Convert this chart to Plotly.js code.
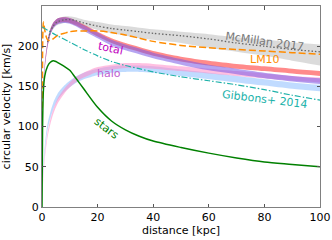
<!DOCTYPE html>
<html><head><meta charset="utf-8">
<script src="https://cdn.plot.ly/plotly-3.0.1.min.js"></script>
<style>html,body{margin:0;padding:0;background:#fff}#chart{width:332px;height:240px}</style>
</head><body><div id="chart"></div>
<script>
// distances [kpc]
const xTot   = [0, 0.2, 0.5, 1, 2, 3, 4, 5, 6, 8, 10, 12, 15, 20, 25, 30, 35, 40, 50, 60, 70, 80, 90, 100];
// total, model A (red band)
const totA_lo = [0, 106, 146, 172, 200, 215, 223, 227, 229, 230, 229, 226, 221, 212, 204, 198, 193, 188, 181, 176, 172, 169, 166, 163];
const totA_hi = [0, 112, 152, 178, 206, 221, 229, 233, 235, 236, 235, 232, 227, 218, 210, 204, 199, 194, 187, 182, 178, 175, 172, 169];
// total, model B (purple band)
const totB_lo = [0, 106, 146, 172, 199, 214, 222, 226, 228, 229, 228, 225, 219, 210, 201, 195, 190, 185, 177, 170, 165, 160, 156, 153];
const totB_hi = [0, 113, 153, 179, 206, 221, 229, 233, 235, 236, 235, 232, 226, 217, 208, 202, 197, 192, 184, 177, 172, 167, 163, 160];
// halo, model A (pink band)
const xHalo   = [0, 0.5, 1, 2, 3, 4, 5, 6, 8, 10, 12, 15, 20, 25, 30, 35, 40, 50, 60, 70, 80, 90, 100];
const haloA_lo = [0, 37, 59, 87, 103, 115, 124, 131, 141, 149, 155, 161, 168, 171, 173, 173, 172, 169, 166, 163, 160, 157, 155];
const haloA_hi = [0, 43, 65, 93, 109, 121, 130, 137, 147, 155, 161, 167, 174, 177, 179, 179, 178, 175, 172, 169, 166, 163, 161];
// halo, model B (light blue band)
const haloB_lo = [0, 46, 68, 96, 110, 121, 129, 135, 143, 149, 154, 159, 164, 167, 168, 168, 167, 163, 159, 155, 151, 147, 144];
const haloB_hi = [0, 54, 76, 104, 118, 129, 137, 143, 151, 157, 162, 167, 172, 175, 176, 176, 175, 171, 167, 163, 159, 155, 152];
// stars
const xStars = [0, 0.2, 0.5, 1, 2, 3, 4, 5, 6, 8, 10, 12, 15, 20, 25, 30, 35, 40, 50, 60, 70, 80, 90, 100];
const vStars = [0, 100, 145, 163, 175, 180, 182, 181, 179, 175, 170, 161, 147, 124, 107, 96, 88, 82, 74, 67, 61, 56, 53, 50];
// McMillan 2017
const xMc   = [2, 3, 4, 5, 6, 8, 10, 12, 15, 20, 25, 30, 35, 40, 50, 60, 70, 80, 90, 100];
const vMc   = [205, 218, 225, 229, 231, 233, 233, 232, 229, 225, 222, 220, 218, 216, 213, 209, 204, 200, 196, 193];
const mcHi  = [209, 222, 229, 233, 235, 237, 237, 236, 233, 230, 227, 225, 223, 221, 218, 215, 211, 208, 205, 202];
const mcLo  = [201, 214, 221, 225, 227, 229, 229, 228, 225, 220, 216, 213, 210, 208, 204, 198, 193, 188, 182, 176];
// LM10
const xLM = [0.1, 0.3, 0.5, 0.8, 1, 1.5, 2, 3, 4, 5, 6, 8, 10, 12, 15, 20, 25, 30, 35, 40, 50, 60, 70, 80, 90, 100];
const vLM = [110, 215, 230, 225, 220, 212, 208, 207, 209, 212, 214, 216, 218, 219, 219, 219, 217, 214, 210, 206, 201, 198, 196, 194, 192, 190];
// Gibbons+ 2014
const xGib = [0, 5, 10, 15, 20, 25, 30, 35, 40, 50, 60, 70, 80, 90, 100];
const vGib = [224, 214, 205, 196, 188, 181, 176, 172, 168, 162, 157, 152, 146, 139, 133];

const xTicks = [0, 20, 40, 60, 80, 100];
const yTicks = [0, 50, 100, 150, 200, 250];

const SM = 0.8;
function band(x, lo, hi, color) {
  return [
    {x: x, y: lo, mode: 'lines', line: {width: 0, color: color, shape: 'spline', smoothing: SM}, hoverinfo: 'skip'},
    {x: x, y: hi, mode: 'lines', line: {width: 0, color: color, shape: 'spline', smoothing: SM}, fill: 'tonexty', fillcolor: color, hoverinfo: 'skip'}
  ];
}
function curve(x, y, color, width, dash) {
  return {x: x, y: y, mode: 'lines', line: {color: color, width: width, dash: dash, shape: 'spline', smoothing: SM}};
}

const traces = [].concat(
  band(xMc, mcLo, mcHi, 'rgba(190,190,190,0.55)'),
  band(xHalo, haloB_lo, haloB_hi, 'rgba(140,190,255,0.55)'),
  band(xHalo, haloA_lo, haloA_hi, 'rgba(255,140,200,0.55)'),
  band(xTot, totA_lo, totA_hi, 'rgba(255,60,60,0.6)'),
  band(xTot, totB_lo, totB_hi, 'rgba(120,90,230,0.55)'),
  [
    curve(xMc, vMc, '#666', 1.3, '1.5px,2px'),
    curve(xLM, vLM, '#ff8c00', 1.5, '7px,3px'),
    curve(xGib, vGib, '#20b2aa', 1.2, '6px,2px,1.5px,2px'),
    curve(xStars, vStars, '#008000', 1.5, 'solid')
  ]
);

const F = 'DejaVu Sans, sans-serif';
const ann = (x, y, t, c, a) => ({x: x, y: y, xref: 'x', yref: 'y', text: t, showarrow: false,
  font: {family: F, size: 11, color: c}, textangle: a});

const layout = {
  width: 332, height: 240,
  margin: {l: 41.5, r: 12, t: 5.5, b: 33},
  paper_bgcolor: '#fff', plot_bgcolor: '#fff',
  showlegend: false,
  font: {family: F, size: 11, color: '#000'},
  xaxis: {range: [0, 100], tickvals: xTicks, ticks: 'inside', ticklen: 3.5, tickcolor: '#555',
    showline: true, linecolor: '#808080', linewidth: 1, mirror: 'ticks', showgrid: false, zeroline: false,
    title: {text: 'distance [kpc]', font: {family: F, size: 11}, standoff: 2}, tickfont: {family: F, size: 11}},
  yaxis: {range: [0, 250], tickvals: yTicks, ticks: 'inside', ticklen: 3.5, tickcolor: '#555',
    showline: true, linecolor: '#808080', linewidth: 1, mirror: 'ticks', showgrid: false, zeroline: false,
    title: {text: 'circular velocity [km/s]', font: {family: F, size: 11}, standoff: 4}, tickfont: {family: F, size: 11}},
  annotations: [
    ann(79.9, 206, 'McMillan 2017', '#777', 8),
    ann(80.2, 183.6, 'LM10', '#ff8c00', 0),
    ann(24.6, 197, 'total', '#c000c0', 12),
    ann(24.2, 166, 'halo', '#c060d0', 0),
    ann(23.2, 98, 'stars', '#008000', 37),
    ann(80.2, 134, 'Gibbons+ 2014', '#20b2aa', 7)
  ]
};

Plotly.newPlot('chart', traces, layout, {staticPlot: true, displayModeBar: false});
</script></body></html>
